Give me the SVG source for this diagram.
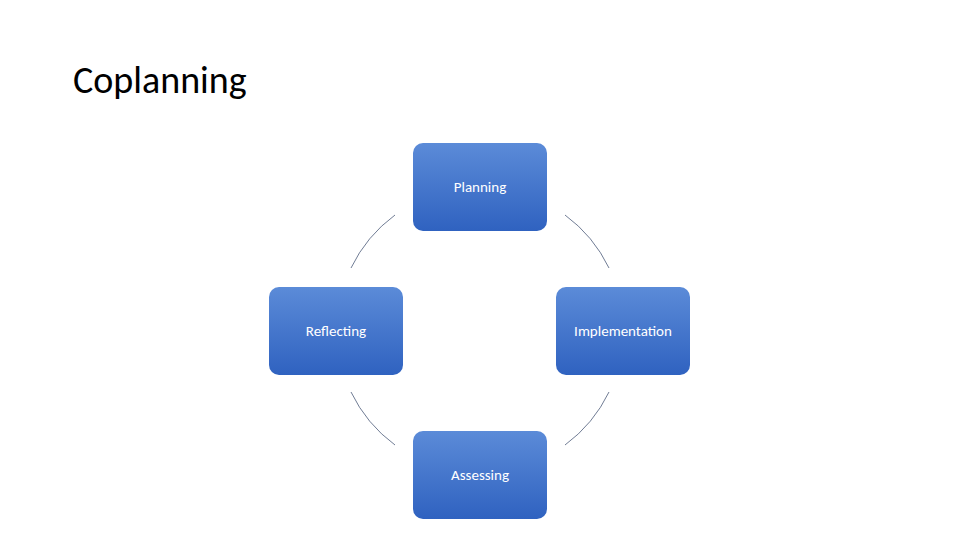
<svg xmlns="http://www.w3.org/2000/svg" width="960" height="540" viewBox="0 0 960 540">
<defs>
<linearGradient id="g" x1="0" y1="0" x2="0" y2="1">
<stop offset="0" stop-color="#5b8bd8"/>
<stop offset="1" stop-color="#2f62c0"/>
</linearGradient>
<style>
.box{fill:url(#g)}
.lbl{font-family:Calibri,Carlito,"Liberation Sans",sans-serif;font-size:15px;fill:#fff;text-anchor:middle}
.arc{fill:none;stroke:#4b5b78;stroke-width:0.8}
</style>
</defs>
<rect width="960" height="540" fill="#fff"/>
<text x="73" y="93" font-family="Calibri,Carlito,'Liberation Sans',sans-serif" font-size="38" fill="#000">Coplanning</text>
<g id="connectors">
<path class="arc" d="M565,215 A143,143 0 0 1 609,268"/>
<path class="arc" d="M609,392 A143,143 0 0 1 565,445"/>
<path class="arc" d="M395,445 A143,143 0 0 1 351,392"/>
<path class="arc" d="M351,268 A143,143 0 0 1 395,215"/>
</g>
<g id="planning"><rect class="box" x="413" y="143" width="134" height="88" rx="10"/><text class="lbl" x="480" y="192">Planning</text></g>
<g id="implementation"><rect class="box" x="556" y="287" width="134" height="88" rx="10"/><text class="lbl" x="623" y="336">Implementation</text></g>
<g id="assessing"><rect class="box" x="413" y="431" width="134" height="88" rx="10"/><text class="lbl" x="480" y="480">Assessing</text></g>
<g id="reflecting"><rect class="box" x="269" y="287" width="134" height="88" rx="10"/><text class="lbl" x="336" y="336">Reflecting</text></g>
</svg>
